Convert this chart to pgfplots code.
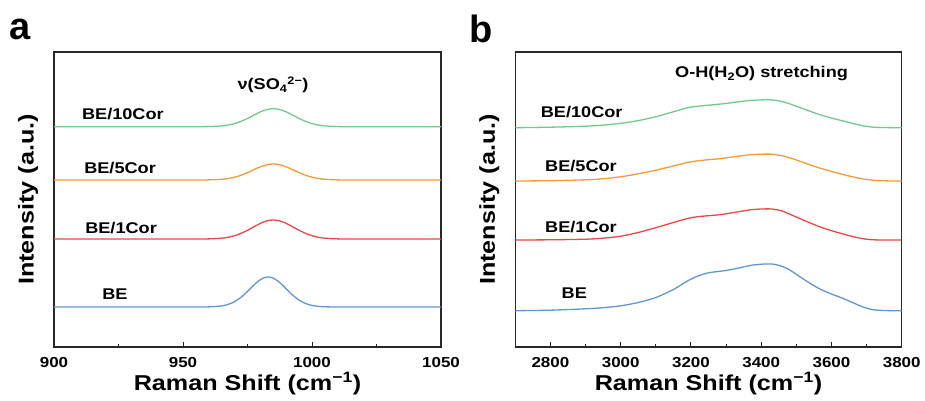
\documentclass[border=0pt]{standalone}
\usepackage{fontspec}
\setmainfont{Liberation Sans}
\newfontfamily\wide{Liberation Sans}[FakeStretch=1.17]
\usepackage{pgfplots}
\pgfplotsset{compat=1.18}

\definecolor{cBE}{RGB}{98,150,208}
\definecolor{cOne}{RGB}{232,72,72}
\definecolor{cFive}{RGB}{244,154,56}
\definecolor{cTen}{RGB}{112,202,144}
\definecolor{frame}{RGB}{40,40,40}

\tikzset{
  curvelabel/.style={font=\wide\bfseries\fontsize{15.5}{17}\selectfont, anchor=center, inner sep=0pt},
}

\pgfplotsset{
  ramanpanel/.style={
    scale only axis,
    anchor=south west,
    height=295pt,
    ymin=0, ymax=295,
    ytick=\empty,
    axis line style={frame, line width=1.1pt},
    tick style={frame, line width=1pt},
    xtick pos=lower,
    tick align=inside,
    major tick length=4.5pt,
    minor tick length=2.5pt,
    minor x tick num=1,
    /pgf/number format/assume math mode=true,
    /pgf/number format/set thousands separator={},
    xticklabel style={font=\wide\bfseries\fontsize{14.5}{16}\selectfont, anchor=base, yshift=-20.5pt, inner sep=0pt},
    xlabel={Raman Shift (cm\textsuperscript{−1})},
    xlabel style={font=\wide\bfseries\fontsize{21.5}{24}\selectfont, at={(axis description cs:0.5,0)}, anchor=base, yshift=-43pt, inner sep=0pt},
    ylabel={Intensity (a.u.)},
    ylabel style={font=\wide\bfseries\fontsize{21.5}{24}\selectfont, at={(axis description cs:0,0.5)}, anchor=center, yshift=26pt, inner sep=0pt},
    every axis plot/.append style={line width=1.3pt},
  },
}

\begin{document}
\begin{tikzpicture}[x=1pt,y=1pt]
\path[use as bounding box] (0,0) rectangle (925,401);

% panel letters
\node[anchor=base west, inner sep=0pt, font=\bfseries\fontsize{38}{40}\selectfont] at (9,361) {a};
\node[anchor=base west, inner sep=0pt, font=\bfseries\fontsize{38}{40}\selectfont] at (469,358) {b};

% ---- (a) sulfate symmetric stretch region ----
\begin{axis}[ramanpanel, at={(54pt,54pt)}, width=387pt,
  xmin=900, xmax=1050, xtick={900,950,1000,1050}]
\addplot[cBE, smooth] coordinates {
 (900,40) (930,40) (950,40) (957,40) (961,40.2) (965,41.1) (967,42.2) (969,44.1)
 (971,46.9) (973,50.8) (975,55.6) (977,60.8) (979,65.5) (981,68.8) (983,70)
 (985,68.8) (987,65.5) (989,60.8) (991,55.6) (993,50.8) (995,46.9) (997,44.1)
 (999,42.2) (1001,41.1) (1003,40.5) (1005,40.2) (1009,40) (1013,40) (1020,40)
 (1035,40) (1050,40)};
\addplot[cOne, smooth] coordinates {
 (900,108) (930,108) (950,108) (957,108) (961,108.2) (965,108.8) (967,109.5)
 (969,110.6) (971,112.1) (973,114.2) (975,116.7) (977,119.5) (979,122.3)
 (981,124.8) (983,126.4) (985,127) (987,126.4) (989,124.8) (991,122.3)
 (993,119.5) (995,116.7) (997,114.2) (999,112.1) (1001,110.6) (1003,109.5)
 (1005,108.8) (1009,108.2) (1013,108) (1020,108) (1035,108) (1050,108)};
\addplot[cFive, smooth] coordinates {
 (900,167) (930,167) (950,167) (957,167) (961,167.2) (965,167.7) (967,168.3)
 (969,169.2) (971,170.5) (973,172.2) (975,174.3) (977,176.7) (979,179.1)
 (981,181.1) (983,182.5) (985,183) (987,182.5) (989,181.1) (991,179.1)
 (993,176.7) (995,174.3) (997,172.2) (999,170.5) (1001,169.2) (1003,168.3)
 (1005,167.7) (1009,167.2) (1013,167) (1020,167) (1035,167) (1050,167)};
\addplot[cTen, smooth] coordinates {
 (900,220.3) (930,220.3) (950,220.3) (957,220.3) (961,220.5) (965,221.1)
 (967,221.7) (969,222.7) (971,224.2) (973,226.2) (975,228.5) (977,231.2)
 (979,233.9) (981,236.2) (983,237.7) (985,238.3) (987,237.7) (989,236.2)
 (991,233.9) (993,231.2) (995,228.5) (997,226.2) (999,224.2) (1001,222.7)
 (1003,221.7) (1005,221.1) (1009,220.5) (1013,220.3) (1020,220.3)
 (1035,220.3) (1050,220.3)};
\node[curvelabel] at (axis cs:926.7,233) {BE/10Cor};
\node[curvelabel] at (axis cs:925.6,179) {BE/5Cor};
\node[curvelabel] at (axis cs:926,119) {BE/1Cor};
\node[curvelabel] at (axis cs:923.6,53) {BE};
\node[curvelabel] at (axis cs:984.9,262) {ν(SO\textsubscript{4}\textsuperscript{2−})};
\end{axis}

% ---- (b) O-H stretching band of water ----
\begin{axis}[ramanpanel, at={(515.3pt,54pt)}, width=386.4pt,
  xmin=2700, xmax=3800, xtick={2800,3000,3200,3400,3600,3800}]
\addplot[cBE, smooth] coordinates {
 (2700,36.3) (2800,36.8) (2900,38.2) (2950,39.3) (3000,41.2) (3050,44.5)
 (3100,49.5) (3150,57.5) (3190,66) (3220,71) (3250,74.2) (3280,75.6)
 (3310,77.1) (3340,79.3) (3370,81.6) (3400,82.8) (3430,83) (3455,81.2)
 (3480,77.3) (3510,70.3) (3540,63.5) (3570,57.5) (3600,53) (3630,49)
 (3660,44.5) (3690,40) (3720,37.2) (3760,36.4) (3800,36.3)};
\addplot[cOne, smooth] coordinates {
 (2700,107) (2800,107.2) (2900,107.8) (2950,108.8) (3000,110.8) (3050,114.5)
 (3100,119.3) (3150,124.5) (3190,128.5) (3220,130.3) (3250,131.3) (3280,132.2)
 (3310,133.8) (3340,135.5) (3370,137.2) (3400,138) (3430,138) (3455,136.5)
 (3480,133) (3510,128.5) (3540,124) (3570,119.8) (3600,116.3) (3630,113.3)
 (3660,110.5) (3690,108.3) (3720,107.2) (3760,107) (3800,107)};
\addplot[cFive, smooth] coordinates {
 (2700,166) (2800,166.3) (2900,167.2) (2950,168.2) (3000,170.2) (3050,173.2)
 (3100,176.8) (3150,181) (3190,184.5) (3220,186.2) (3250,187.3) (3280,188.2)
 (3310,189.6) (3340,191) (3370,192.3) (3400,192.8) (3430,192.8) (3455,191.6)
 (3480,189.3) (3510,185.8) (3540,182) (3570,178.6) (3600,175.6) (3630,172.8)
 (3660,170.2) (3690,168.1) (3720,166.7) (3760,166.1) (3800,166)};
\addplot[cTen, smooth] coordinates {
 (2700,219.3) (2800,219.8) (2900,220.8) (2950,221.9) (3000,223.7) (3050,226.4)
 (3100,230.2) (3150,235.2) (3190,239.2) (3220,240.8) (3250,241.8) (3280,242.8)
 (3310,244) (3340,245.4) (3370,246.6) (3400,247.1) (3430,247.1) (3455,245.8)
 (3480,243.3) (3510,239.5) (3540,235.6) (3570,232) (3600,229) (3630,226.3)
 (3660,223.6) (3690,221.2) (3720,219.8) (3760,219.4) (3800,219.3)};
\node[curvelabel] at (axis cs:2889,234.7) {BE/10Cor};
\node[curvelabel] at (axis cs:2887,181.3) {BE/5Cor};
\node[curvelabel] at (axis cs:2887,120.3) {BE/1Cor};
\node[curvelabel] at (axis cs:2868,53.7) {BE};
\node[curvelabel] at (axis cs:3401,273) {O-H(H\textsubscript{2}O) stretching};
\end{axis}
\end{tikzpicture}
\end{document}
